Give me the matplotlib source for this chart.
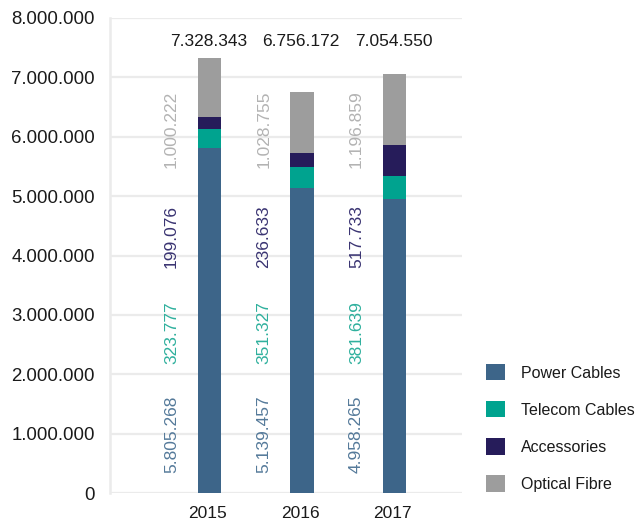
import matplotlib
matplotlib.use("Agg")
import matplotlib.pyplot as plt
from matplotlib.patches import Patch

plt.rcParams['font.family'] = ['Liberation Sans', 'DejaVu Sans']

years = ["2015", "2016", "2017"]
series = ["Power Cables", "Telecom Cables", "Accessories", "Optical Fibre"]
power_cables = [5805268, 5139457, 4958265]
telecom_cables = [323777, 351327, 381639]
accessories = [199076, 236633, 517733]
optical_fibre = [1000222, 1028755, 1196859]
totals = [7328343, 6756172, 7054550]
y_ticks = [0, 1000000, 2000000, 3000000, 4000000, 5000000, 6000000, 7000000, 8000000]

bar_colors = ["#3d6589", "#00a38f", "#261c5a", "#9d9d9d"]
label_colors = ["#557a9a", "#2fb09d", "#3a3472", "#b3b3b3"]
# fixed heights of the rotated value labels (bottom edge), one row per series
label_rows = [340000, 2170000, 3790000, 5470000]


def fmt(v):
    return f"{v:,}".replace(",", ".")


fig = plt.figure(figsize=(6.38, 5.24), dpi=100)
ax = fig.add_axes([110 / 638, 1 - 493 / 524, 352 / 638, 475 / 524])

x = list(range(len(years)))
stack = [power_cables, telecom_cables, accessories, optical_fibre]
bottom = [0] * len(years)
for vals, col in zip(stack, bar_colors):
    ax.bar(x, vals, bottom=bottom, width=0.25, color=col, zorder=3)
    bottom = [b + v for b, v in zip(bottom, vals)]

# rotated value labels left of each bar
for vals, col, row in zip(stack, label_colors, label_rows):
    for xi, v in zip(x, vals):
        ax.text(xi - 0.41, row, fmt(v), rotation=90, ha="center", va="bottom",
                color=col, fontsize=12.5, zorder=4)

# totals above the bars
for xi, t in zip(x, totals):
    ax.text(xi - 0.01, 7600000, fmt(t), ha="center", va="center", color="#1a1a1a",
            fontsize=12.5, zorder=4)

ax.set_xlim(-1.076, 2.73)
ax.set_ylim(0, 8000000)
ax.set_yticks(y_ticks)
ax.set_yticklabels([fmt(v) for v in y_ticks])
ax.set_xticks([xi - 0.02 for xi in x])
ax.set_xticklabels(years, fontsize=12.5)
ax.tick_params(axis="both", length=0, labelcolor="#1a1a1a")
ax.tick_params(axis="y", labelsize=13.4, pad=11)
ax.tick_params(axis="x", pad=9)

ax.grid(axis="y", color="#ebebeb", linewidth=1.6, zorder=0)
ax.set_axisbelow(True)
for side in ["top", "right", "bottom"]:
    ax.spines[side].set_visible(False)
ax.spines["left"].set_color("#ebebeb")
ax.spines["left"].set_linewidth(1.8)

handles = [Patch(facecolor=c, edgecolor="none") for c in bar_colors]
fig.legend(handles, series, loc="upper left", bbox_to_anchor=(486 / 638, 1 - 364 / 524),
           borderpad=0, borderaxespad=0, frameon=False, fontsize=11.5,
           handlelength=1.19, handleheight=1.19, handletextpad=1.0,
           labelspacing=1.29, labelcolor="#1a1a1a")

fig.savefig("out.png", dpi=100)
